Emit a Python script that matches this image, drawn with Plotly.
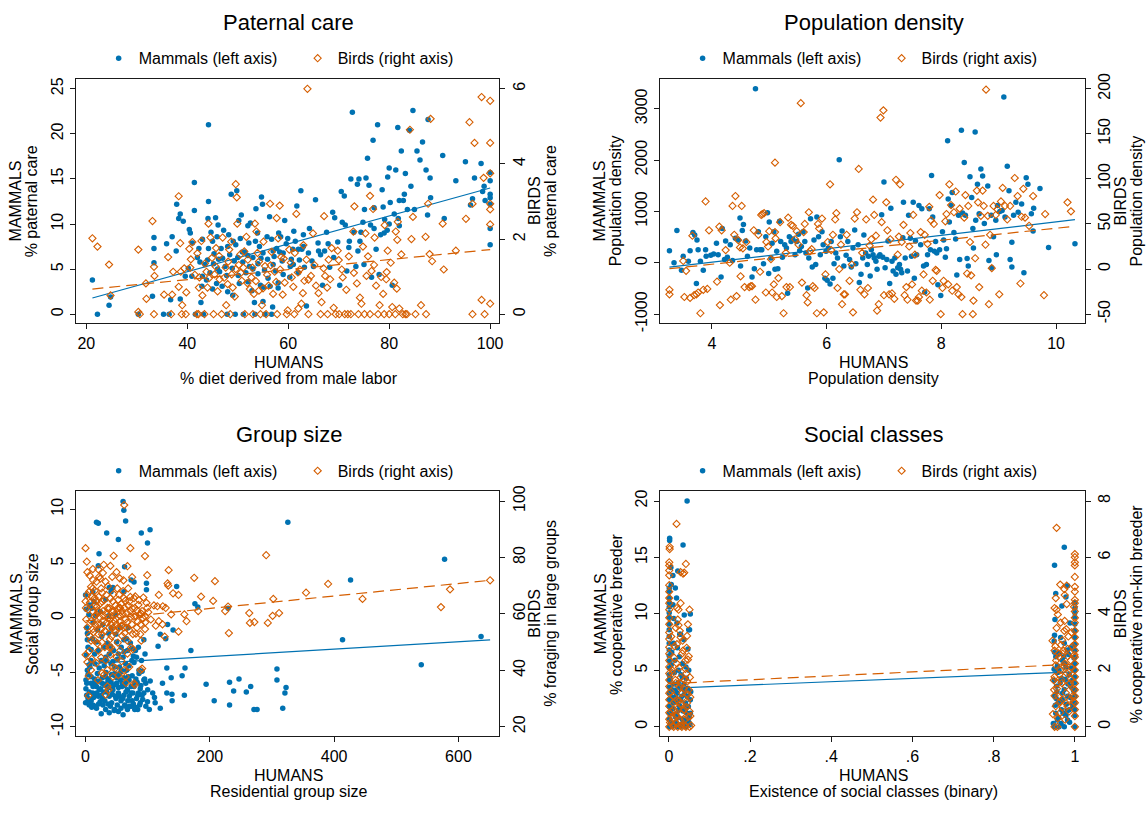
import plotly.graph_objects as go

BLUE = "#0072B2"
ORANGE = "#D55E00"
INK = "#1a1a1a"
FONT = "Liberation Sans, Arial, Helvetica, sans-serif"
W, H = 1148, 813

# ---------------- Paternal care ----------------
pc_mammals = [
    (21.2, 3.8), (22.2, 0), (24.5, 1.0), (24.8, 1.9), (30.3, 0), (33.1, 2.0), (33.4, 7.3), (33.4, 8.5),
    (33.4, 5.7), (35.3, 0), (35.9, 7.8), (36.4, 0), (36.7, 1.6), (37.0, 8.6), (37.8, 7.0), (37.9, 12.2),
    (38.3, 10.6), (38.6, 11.1), (38.6, 1.7), (39.2, 10.3), (39.6, 4.2), (40.4, 9.4), (40.6, 9.0), (40.9, 4.2),
    (41.4, 14.6), (41.4, 11.5), (41.6, 0), (42.0, 6.3), (42.3, 7.3), (42.7, 1.3), (42.9, 3.1), (43.2, 0),
    (43.5, 5.5), (44.2, 21.0), (44.2, 12.5), (44.2, 7.3), (44.7, 9.1), (45.0, 8.1), (45.3, 6.7), (45.6, 10.7),
    (45.8, 3.4), (46.4, 4.7), (46.7, 7.3), (47.5, 5.3), (47.9, 0), (48.2, 8.8), (48.7, 13.3), (49.1, 8.1),
    (49.3, 5.9), (49.5, 0), (49.8, 13.7), (50.1, 4.3), (50.2, 10.4), (50.5, 8.4), (50.7, 11.0), (51.1, 0),
    (51.4, 6.9), (52.0, 9.8), (52.3, 5.3), (52.5, 10.1), (53.0, 6.3), (53.3, 1.3), (53.4, 0), (53.6, 11.7),
    (53.9, 9.0), (54.3, 7.5), (54.5, 3.2), (54.7, 13.0), (54.9, 12.2), (55.1, 3.0), (55.4, 0), (55.9, 6.1),
    (56.3, 10.8), (56.7, 8.3), (56.7, 0), (56.9, 0.8), (57.2, 6.4), (57.7, 7.3), (58.1, 9.0), (58.5, 8.6),
    (58.8, 5.9), (59.3, 10.4), (59.9, 8.4), (60.3, 4.1), (60.6, 6.1), (60.9, 7.2), (61.4, 8.1), (61.7, 12.0),
    (62.0, 7.2), (62.5, 13.7), (62.7, 7.2), (63.2, 5.2), (63.6, 0.9), (64.2, 9.5), (64.7, 5.9), (65.4, 12.7),
    (65.9, 7.9), (66.4, 6.6), (66.8, 3.2), (67.2, 7.0), (67.6, 9.1), (68.2, 5.2), (68.8, 11.3), (69.2, 10.7),
    (69.8, 8.0), (70.2, 3.2), (70.5, 13.6), (70.7, 10.2), (71.1, 13.1), (71.6, 4.8), (72.1, 8.1), (72.4, 15.0),
    (72.7, 22.4), (73.0, 9.1), (73.4, 5.3), (73.7, 14.4), (74.0, 15.0), (74.2, 8.1), (74.4, 9.1), (74.8, 10.2),
    (75.1, 11.6), (75.4, 15.1), (75.7, 17.3), (76.0, 14.3), (76.5, 4.1), (76.8, 19.3), (77.0, 11.8), (77.4, 7.2),
    (77.7, 21.0), (78.0, 4.4), (78.3, 8.8), (78.6, 13.8), (79.1, 10.5), (79.6, 9.3), (79.7, 15.2), (80.0, 16.2),
    (80.2, 12.4), (80.6, 3.2), (81.0, 11.1), (81.3, 16.0), (81.7, 20.7), (82.0, 12.6), (82.4, 18.1), (82.8, 12.6),
    (83.2, 15.6), (83.6, 11.6), (84.0, 20.4), (84.3, 14.2), (84.7, 22.6), (85.5, 18.1), (86.1, 17.1), (86.6, 19.1),
    (87.3, 16.0), (87.6, 11.0), (87.7, 21.6), (88.1, 15.1), (88.2, 12.9), (90.6, 17.6), (90.9, 10.6), (93.2, 14.8),
    (95.1, 16.9), (96.1, 12.1), (96.5, 12.8), (96.9, 15.1), (98.2, 16.7), (98.5, 13.6), (98.8, 14.2), (99.0, 12.6),
    (100, 15.7), (100, 14.8), (100, 13.3), (100, 12.2), (100, 9.5), (100, 7.7), (100, 12.9),
    (44, 6.0), (46, 5.0), (47, 6.2), (48, 7.5), (50, 6.3), (51, 5.8), (52, 6.5), (53, 5.0), (54, 4.5),
    (55, 6.8), (56, 4.0), (57, 5.5), (58, 3.5), (59, 6.8), (61, 5.5), (63, 7.5), (66, 7.0), (69, 6.3),
    (72, 7.4), (75, 5.5), (77, 9.5), (80, 10.0), (82, 9.8), (79, 9.0), (45, 2.8), (43, 4.2), (48, 2.5),
    (52, 3.6), (55, 1.4),
    (40.2, 5.1), (41.0, 7.9), (42.5, 5.8), (43.0, 8.3), (43.8, 3.8), (44.5, 4.6), (45.2, 5.6), (45.9, 8.6),
    (46.2, 6.1), (46.9, 3.1), (47.2, 9.3), (47.8, 4.3), (48.4, 6.6), (48.9, 5.1), (49.6, 7.7), (50.3, 3.4),
    (50.9, 6.9), (51.6, 4.6), (52.2, 7.9), (52.8, 2.6), (53.5, 8.1), (54.0, 5.6), (54.6, 6.2), (55.3, 4.9),
    (55.8, 8.6), (56.4, 3.1), (57.0, 7.0), (57.5, 4.8), (58.3, 6.9), (59.0, 4.4), (59.6, 7.8), (60.4, 5.3),
    (61.1, 9.2), (62.2, 6.0), (63.0, 8.8), (64.0, 6.8), (65.0, 5.3), (67.9, 7.8), (71.3, 9.9), (73.8, 7.0),
    (76.3, 9.9), (78.8, 11.9), (81.8, 10.6), (83.0, 13.3), (85.0, 11.6), (62.0, 4.6), (58.0, 2.9), (49.0, 2.1),
    (46.1, 9.9), (44.1, 10.6),
]
pc_birds = [
    (21.2, 2.02), (22.2, 1.80), (24.5, 1.32), (24.8, 0.50), (30.3, 1.72), (30.3, 0.06), (30.6, 0), (31.8, 0.82),
    (31.9, 0.41), (33.1, 2.48), (33.4, 1.26), (33.5, 1.02), (33.4, 0), (35.4, 0.52), (36.2, 1.52), (36.8, 0),
    (37.0, 0.52), (37.2, 1.13), (38.3, 3.14), (38.3, 0.73), (38.6, 1.89), (38.7, 1.13), (38.9, 0), (39.0, 0.24),
    (39.4, 1.22), (39.7, 0), (39.8, 0.58), (40.4, 1.74), (40.6, 1.24), (41.0, 1.92), (41.9, 0), (42.3, 0.71),
    (42.4, 0.98), (42.8, 1.95), (43.0, 0.50), (43.4, 0), (43.8, 1.13), (44.2, 2.41), (44.3, 0.96), (44.6, 2.04),
    (44.9, 1.50), (45.2, 0), (45.4, 1.06), (45.7, 1.76), (46.0, 0.61), (46.4, 0.93), (47.0, 2.04), (47.6, 1.24),
    (47.7, 0.24), (48.0, 0.80), (48.3, 1.72), (48.5, 0), (48.7, 1.93), (49.0, 0.71), (49.4, 0.47), (49.6, 3.46),
    (49.8, 3.11), (49.9, 2.41), (50.2, 1.31), (50.5, 1.59), (50.8, 0.89), (51.1, 1.24), (51.4, 0), (51.7, 2.06),
    (52.0, 1.45), (52.4, 0.67), (52.7, 0.98), (53.2, 0.54), (53.4, 2.41), (53.7, 2.20), (53.9, 1.63), (54.2, 0.63),
    (54.5, 0), (54.8, 0.24), (55.1, 1.93), (55.4, 1.28), (55.6, 0), (56.1, 0.76), (56.4, 2.94), (56.7, 1.66),
    (57.0, 0.54), (57.3, 1.13), (57.7, 2.56), (58.0, 2.02), (58.3, 2.89), (58.6, 1.52), (58.9, 0.52), (59.3, 0.84),
    (59.7, 0), (59.9, 0.10), (60.2, 1.72), (60.7, 0.98), (61.3, 1.63), (61.6, 2.67), (61.9, 1.11), (62.0, 0.15),
    (62.6, 0.28), (62.9, 0.56), (63.2, 0.89), (63.6, 1.45), (63.8, 6.0), (64.5, 1.02), (64.9, 2.15), (65.5, 0.76),
    (66.0, 0.56), (66.4, 0), (66.6, 0.32), (67.1, 2.61), (67.3, 1.02), (67.7, 0.71), (68.3, 0.93), (68.6, 1.76),
    (69.0, 0.17), (69.4, 0), (69.8, 1.69), (70.1, 0), (70.6, 1.19), (70.8, 0.98), (71.2, 0), (72.0, 1.54),
    (72.4, 0), (72.9, 2.20), (73.1, 2.87), (73.6, 0.82), (73.9, 0), (74.2, 0.44), (74.5, 0.28), (74.8, 1.80),
    (75.1, 0), (75.3, 2.15), (75.8, 1.54), (76.2, 3.15), (76.5, 1.15), (76.8, 2.80), (77.1, 2.04), (77.4, 0.76),
    (77.8, 0), (78.1, 0.24), (78.4, 0.99), (78.8, 0.54), (79.1, 2.37), (79.4, 0.93), (79.7, 1.69), (80.0, 0),
    (80.3, 1.37), (80.6, 0.19), (81.0, 0.84), (81.3, 2.20), (81.6, 1.98), (81.7, 2.46), (82.0, 0.15), (82.4, 1.59),
    (82.7, 0), (83.2, 0), (83.5, 0), (84.1, 4.91), (84.4, 2.00), (84.7, 2.59), (85.2, 0), (86.3, 0.24),
    (87.3, 0), (87.2, 2.06), (87.7, 2.94), (88.0, 1.60), (88.2, 5.20), (88.5, 1.41), (90.6, 2.41), (90.8, 1.19),
    (93.2, 1.69), (95.2, 2.54), (95.9, 5.11), (96.5, 0), (96.5, 2.94), (96.9, 4.56), (98.3, 5.78), (98.3, 0.38),
    (98.7, 3.63), (98.9, 0), (100, 5.68), (100, 4.56), (100, 3.75), (100, 2.94), (100, 2.79), (100, 2.39),
    (100, 0.28),
    (40.7, 1.46), (41.5, 1.05), (42.0, 1.62), (43.5, 1.35), (44.0, 0.71), (45.6, 1.27), (46.3, 1.55), (47.3, 0.97),
    (48.1, 1.40), (48.8, 1.06), (49.6, 1.20), (50.6, 1.10), (51.3, 1.67), (51.9, 0.83), (52.9, 1.24), (53.6, 0.88),
    (54.2, 1.40), (55.0, 0.69), (55.8, 1.05), (56.5, 1.30), (57.6, 0.86), (58.4, 1.19), (59.1, 1.48), (60.5, 1.37),
    (61.0, 0.73), (62.3, 1.19), (63.0, 1.84), (64.0, 0.92), (65.2, 1.31), (67.0, 1.22), (68.0, 1.45), (70.0, 1.44),
    (71.5, 0.65), (73.0, 1.10), (75.5, 1.02), (77.0, 1.31), (79.5, 1.12), (81.5, 0.68), (42.2, 0), (46.8, 0),
    (53.0, 0), (57.8, 0), (61.2, 0), (64.0, 0), (67.8, 0), (71.8, 0), (76.2, 0), (79.0, 0), (81.2, 0),
]
pc_mammal_fit = [(21.2, 1.8), (100, 14.0)]
pc_bird_fit = [(21.2, 0.67), (100, 1.72)]

# ---------------- Population density ----------------
pd_mammals = [
    (3.26, 236), (3.34, 0), (3.39, 631), (3.47, -146), (3.50, 127), (3.59, 32), (3.62, 236), (3.67, 592),
    (3.70, 541), (3.73, -401), (3.74, 446), (3.76, 255), (3.80, 32), (3.85, -146), (3.89, 255), (3.90, 127),
    (3.98, 146), (4.03, 172), (4.08, 382), (4.11, 159), (4.16, -274), (4.18, 669), (4.22, 64), (4.24, 427),
    (4.27, 108), (4.32, 350), (4.36, 45), (4.41, 478), (4.46, 446), (4.49, 873), (4.50, -64), (4.53, 631),
    (4.55, 745), (4.59, 427), (4.62, 127), (4.66, 287), (4.70, -274), (4.74, -115), (4.76, 3389), (4.78, 255),
    (4.81, 605), (4.84, 255), (4.87, 255), (4.90, -19), (4.94, 510), (4.97, 975), (4.99, -210), (5.00, 796),
    (5.03, 96), (5.05, 382), (5.08, 605), (5.10, -127), (5.13, 223), (5.15, -115), (5.18, 809), (5.20, 414),
    (5.23, 108), (5.27, 350), (5.30, 287), (5.32, -592), (5.35, 510), (5.38, 414), (5.41, 465), (5.45, 159),
    (5.48, 414), (5.51, 554), (5.53, 236), (5.56, 318), (5.59, 605), (5.62, 414), (5.64, 191), (5.67, -490),
    (5.69, 96), (5.72, 860), (5.75, -83), (5.78, 446), (5.81, -32), (5.83, 892), (5.86, 510), (5.89, 159),
    (5.92, 605), (5.94, 350), (5.97, -299), (5.99, 223), (6.01, -338), (6.03, 287), (6.06, -414), (6.08, 414),
    (6.11, -299), (6.13, -19), (6.16, 191), (6.19, 96), (6.22, 2006), (6.24, 510), (6.27, 618), (6.30, -64),
    (6.34, 146), (6.37, 414), (6.40, 64), (6.43, -83), (6.46, 287), (6.49, 637), (6.51, -19), (6.55, 350),
    (6.57, -382), (6.60, -223), (6.63, 96), (6.65, 541), (6.68, 191), (6.71, -32), (6.73, 127), (6.76, -255),
    (6.78, 255), (6.81, 159), (6.83, 96), (6.86, 32), (6.88, -127), (6.91, 127), (6.93, 159), (6.96, 936),
    (6.98, 108), (7.00, 1573), (7.02, -96), (7.05, 64), (7.07, 427), (7.10, -401), (7.12, 1064), (7.14, 32),
    (7.16, -159), (7.19, 96), (7.21, -223), (7.24, -96), (7.27, -32), (7.29, -127), (7.31, -191), (7.33, 490),
    (7.34, 1178), (7.37, 96), (7.41, -159), (7.43, 924), (7.46, 478), (7.48, 127), (7.51, 1178), (7.53, -299),
    (7.55, 427), (7.57, 159), (7.61, 1115), (7.64, 350), (7.66, 1051), (7.69, -64), (7.71, -573), (7.74, -32),
    (7.76, 159), (7.79, 1051), (7.81, 255), (7.83, 1701), (7.85, 892), (7.88, 223), (7.90, 414), (7.92, 191),
    (7.94, -427), (7.97, 255), (7.99, -637), (8.02, 605), (8.04, 446), (8.07, 108), (8.09, 274), (8.11, 2376),
    (8.12, 1242), (8.14, 796), (8.17, 1115), (8.19, 1369), (8.22, 592), (8.25, 465), (8.27, -236), (8.30, 924),
    (8.32, 64), (8.35, 2580), (8.37, 968), (8.40, 1955), (8.42, 924), (8.45, 83), (8.47, -64), (8.50, 1675),
    (8.53, 1274), (8.55, 669), (8.56, 287), (8.59, 2548), (8.60, 828), (8.63, 1529), (8.66, 955), (8.69, 1828),
    (8.72, 1688), (8.75, 764), (8.81, 1497), (8.83, 45), (8.87, 924), (8.88, -96), (8.91, 510), (8.95, 828),
    (8.96, 159), (8.98, 1115), (9.02, 1000), (9.06, 1019), (9.09, 3229), (9.11, 892), (9.15, 1879), (9.18, 1401),
    (9.20, 64), (9.23, -83), (9.23, 401), (9.26, 924), (9.30, 1178), (9.34, 987), (9.40, 1146), (9.44, -191),
    (9.48, 1656), (9.51, 1529), (9.57, 955), (9.60, 618), (9.61, 1064), (9.72, 1446), (9.87, 299), (10.33, 369),
]
pd_birds = [
    (3.26, -23), (3.26, -28), (3.50, 9), (3.52, -31), (3.55, -2), (3.62, -32), (3.66, 37), (3.69, -29),
    (3.73, -28), (3.76, -26), (3.80, -49), (3.85, -23), (3.89, 75), (3.92, -22), (3.95, 43), (4.09, -14),
    (4.13, 47), (4.14, -40), (4.17, 43), (4.24, 21), (4.31, 7), (4.33, -34), (4.36, 70), (4.39, 38),
    (4.41, 81), (4.43, -30), (4.46, 32), (4.49, 24), (4.50, -8), (4.52, 70), (4.54, 23), (4.57, -20),
    (4.60, 30), (4.65, -20), (4.68, -19), (4.70, -19), (4.73, 43), (4.76, -34), (4.81, 38), (4.84, -3),
    (4.86, 60), (4.88, 61), (4.91, 62), (4.94, -26), (4.95, 30), (4.98, 25), (5.00, 42), (5.03, 11),
    (5.05, -26), (5.08, -17), (5.10, 118), (5.10, 41), (5.11, 34), (5.13, -31), (5.16, -10), (5.19, 52),
    (5.22, -30), (5.25, -49), (5.29, 18), (5.30, -20), (5.33, 57), (5.36, -20), (5.38, 49), (5.41, 48),
    (5.45, 33), (5.48, 42), (5.51, 27), (5.55, 184), (5.57, -15), (5.60, 41), (5.62, 50), (5.65, -29),
    (5.67, -37), (5.69, 63), (5.71, 20), (5.74, 22), (5.76, -19), (5.79, -21), (5.83, -49), (5.85, 50),
    (5.87, 45), (5.92, 56), (5.95, -48), (5.98, -6), (6.02, 30), (6.06, 94), (6.08, 21), (6.11, 38),
    (6.15, 55), (6.17, 62), (6.19, -21), (6.22, 0), (6.25, 27), (6.27, -39), (6.30, -28), (6.32, -28),
    (6.35, 38), (6.40, -13), (6.44, 5), (6.46, -48), (6.49, 56), (6.53, 63), (6.56, 111), (6.59, -23),
    (6.62, 18), (6.66, -28), (6.69, 55), (6.72, -21), (6.75, 26), (6.78, 33), (6.81, 77), (6.83, 60),
    (6.86, 37), (6.88, -46), (6.91, -39), (6.94, 168), (6.96, 52), (6.99, 176), (7.00, -29), (7.04, 74),
    (7.06, 43), (7.09, -28), (7.11, 33), (7.14, -27), (7.18, -33), (7.21, 99), (7.24, 16), (7.26, 36),
    (7.28, 94), (7.31, 30), (7.34, 49), (7.36, -29), (7.39, -20), (7.41, -34), (7.44, 25), (7.46, 40),
    (7.49, -17), (7.51, 60), (7.54, 16), (7.56, -35), (7.59, -35), (7.61, -31), (7.64, 41), (7.66, -24),
    (7.69, -6), (7.71, 38), (7.74, -26), (7.76, 28), (7.79, 69), (7.80, -34), (7.82, 54), (7.85, -13),
    (7.87, 50), (7.90, -1), (7.92, -2), (7.97, 82), (7.99, -50), (8.02, -21), (8.04, -13), (8.07, 53),
    (8.09, 61), (8.12, -17), (8.14, 94), (8.17, 71), (8.19, -24), (8.22, 63), (8.25, 86), (8.27, -20),
    (8.30, -28), (8.32, 67), (8.35, -31), (8.37, -50), (8.40, 57), (8.42, 82), (8.45, -5), (8.47, 70),
    (8.50, 30), (8.52, -7), (8.55, -50), (8.56, -35), (8.59, 12), (8.62, 87), (8.64, 74), (8.66, -20),
    (8.69, 59), (8.72, 87), (8.74, 70), (8.77, 27), (8.78, 199), (8.81, 59), (8.83, -39), (8.85, 38),
    (8.88, 1), (8.91, 70), (8.95, 60), (8.98, 66), (9.01, -28), (9.04, 75), (9.07, 90), (9.11, 70),
    (9.15, 55), (9.20, 70), (9.28, 101), (9.33, 81), (9.38, -16), (9.40, 58), (9.43, 89), (9.46, 57),
    (9.53, 48), (9.60, 81), (9.79, -29), (9.81, 61), (10.20, 74), (10.26, 64),
]
pd_mammal_fit = [(3.26, -85), (10.33, 841)]
pd_bird_fit = [(3.26, 0.4), (10.33, 47.5)]

# ---------------- Group size ----------------
gs_mammals = [
    (60.4, 10.7), (61.6, 9.9), (64.5, 8.9), (17.6, 8.8), (20.5, 8.7), (34.0, 7.8), (52.8, 7.2), (89.7, 7.8),
    (99.7, 6.9), (103.8, 8.1), (21.7, 5.9), (20.5, 4.8), (62.8, 4.7), (0, 2.1), (325.5, 8.8), (577.7, 5.4),
    (426.4, 3.5), (146.6, 2.9), (44, 2.8), (41, 2.4), (11.7, 2.4), (78, 3.3), (98, 3.2), (176, 1.3),
    (180.6, 1.0), (229.3, 0.9), (413.5, -2.0), (636.4, -1.7), (540.2, -4.3), (120.2, -1.5), (129, -1.9),
    (132, -0.6), (140.8, -1.1), (116.7, -2.6), (169.5, -3.0), (160, -4.6), (155.4, -5.3), (130.8, -4.6),
    (137.8, -5.5), (123.8, -6.0), (130.8, -6.9), (139, -7.0), (139.3, -7.6), (159, -7.1), (194, -6.1),
    (207, -7.6), (231.7, -5.9), (246.9, -5.6), (238.3, -6.7), (258.7, -6.8), (265.7, -6.3), (271, -8.4),
    (276, -8.4), (231.7, -8.0), (308, -4.7), (308, -5.7), (322.6, -6.4), (320.8, -6.9), (317.3, -8.3),
    (110.9, -7.3), (120.2, -8.3), (102.6, -8.4), (99.7, -7.7), (96.8, -6.0), (93.8, -5.7), (90.9, -7.1),
    (88, -7.8), (83.9, -8.4), (79.2, -8.4), (73.3, -8.1), (67.4, -8.4), (64.5, -8.1), (60.4, -8.9),
    (52.8, -8.6), (46.9, -8.4), (38.1, -8.7), (32.3, -8.4), (25.2, -8.8), (17.6, -8.3), (11.7, -8.0),
    (5.9, -8.0), (0, -7.8), (1.8, -7.1), (0.6, -6.5), (0.6, -5.7), (2.9, -4.8), (5.9, -4.3), (8.8, -6.0),
    (11.7, -6.9), (14.7, -5.6), (17.6, -6.3), (20.5, -7.2), (23.5, -7.7), (26.4, -6.0), (29.3, -6.8),
    (32.3, -5.4), (35.2, -6.3), (38.1, -7.2), (41.1, -5.9), (44, -6.6), (46.9, -5.1), (49.9, -6.0),
    (52.8, -6.9), (55.7, -5.7), (58.7, -6.3), (61.6, -7.1), (64.5, -5.9), (67.4, -6.6), (70.4, -7.2),
    (73.3, -6.3), (76.2, -6.9), (79.2, -6.0), (82.1, -7.4), (85, -6.9), (88, -6.5), (93.8, -6.9),
    (8.8, -3.9), (14.7, -3.3), (20.5, -3.0), (25.2, -3.9), (29.3, -2.7), (32.3, -3.6), (35.2, -2.3),
    (38.1, -3.3), (41.1, -4.2), (45.2, -3.0), (48.7, -1.5), (51, -3.8), (54.5, -4.5), (57.4, -2.7),
    (60.4, -3.6), (64.5, -4.2), (67.4, -3.0), (72.1, -2.3), (74.5, -3.9), (76.8, -3.5), (80.4, -3.0),
    (85, -2.7), (93.8, -2.0), (95.7, -3.3), (2.9, -2.0), (1.8, -0.9), (5.3, 0.3), (10, 0.9), (13.5, 1.5),
    (19.4, -1.1), (23.5, 0.6), (27.6, -0.6), (32.3, 1.7), (37, 0.2), (41.1, -0.9), (48.7, 0.3),
    (55.7, -0.9), (61.6, -2.0), (68.6, -0.9), (98, 2.6), (38.1, 2.8), (61.6, 2.4), (73.3, 3.5),
    (46.9, -5.3), (4, -7.4), (9, -7.6), (14, -7.0), (22, -6.6), (27, -7.4), (31, -6.2), (36, -5.8),
    (42, -7.8), (48, -7.2), (53, -5.2), (57, -7.6), (63, -6.2), (69, -5.4), (75, -7.6), (81, -5.6),
    (2, -6.0), (3, -7.8), (4, -5.2), (6, -6.8), (7, -7.5), (9, -5.4), (10, -8.2), (12, -6.3), (13, -7.3),
    (15, -5.9), (16, -8.1), (18, -6.9), (19, -5.1), (21, -7.9), (22, -5.8), (24, -6.5), (25, -7.1),
    (27, -5.5), (28, -8.0), (30, -6.1), (31, -7.6), (33, -5.0), (34, -6.8), (36, -7.9), (37, -5.6),
    (39, -6.4), (40, -8.1), (42, -5.2), (43, -7.0), (45, -6.2), (46, -8.5), (47, -4.5), (49, -7.4),
    (50, -5.5), (51, -8.0), (53, -6.4), (54, -7.2), (56, -5.0), (57, -8.3), (59, -6.0), (60, -7.4),
    (62, -5.5), (63, -8.0), (65, -6.8), (66, -4.8), (68, -7.6), (70, -5.7), (71, -8.1), (73, -6.9),
    (75, -5.3), (77, -7.9), (78, -6.3), (80, -8.2), (83, -5.9), (84, -7.1), (86, -5.1), (87, -8.0),
    (89, -6.2), (91, -4.9), (92, -7.5), (95, -5.6), (97, -8.1), (100, -6.6), (104, -5.8), (108, -6.9),
    (112, -7.8), (1, -3.4), (4, -2.7), (7, -4.5), (11, -1.9), (15, -4.2), (18, -2.2), (22, -4.6),
    (26, -1.7), (30, -4.4), (34, -3.9), (37, -1.4), (40, -2.6), (44, -4.0), (50, -2.2), (53, -3.3),
    (58, -4.8), (62, -3.1), (66, -1.9), (70, -4.4), (74, -2.8), (78, -4.1), (82, -3.6), (86, -4.8),
    (90, -3.9), (1, 0.8), (3, -1.4), (7, 1.2), (12, -0.4), (16, 0.2), (9, -2.9),
]
gs_birds = [
    (0, 83.3), (62.2, 98.6), (72.1, 83.3), (45.2, 80.6), (95.6, 80.5), (67.4, 76.9), (29.3, 77.4),
    (20.5, 75.8), (6.5, 73.6), (99.2, 73.7), (133.7, 75.5), (174.8, 72.8), (208.2, 71.6), (290.6, 80.8),
    (390.3, 70.6), (651, 71.9), (586.5, 68.7), (571.9, 62.4), (445.7, 65.3), (354.8, 67.5), (302.1, 65.3),
    (311.4, 60.3), (301.0, 59.3), (293.3, 56.8), (271.6, 57.1), (264.5, 56.8), (263.4, 60.3), (229.3, 62.6),
    (224.6, 61.0), (230.6, 53.2), (185.9, 66.1), (181.2, 61.0), (205.3, 64.6), (159, 59.8), (162.5, 57.4),
    (149.6, 66.7), (140.8, 67.3), (149.6, 53.7), (137.8, 59.8), (129, 62.1), (124.3, 62.7), (132, 70.8),
    (133.1, 70.0), (117.9, 66.7), (117.9, 57.4), (123.8, 56.3), (127.3, 51.9), (115.5, 62.7), (99.2, 62.1),
    (95.7, 59.2), (95.7, 54.6), (89.7, 50.5), (88.6, 40.1), (91, 40.6), (79.2, 34.8), (78, 35.4),
    (37, 33.1), (35.2, 34.3), (32.3, 31.4), (4.7, 31.0), (0, 45.5), (2.9, 42.9), (5.9, 46.8), (8.8, 50.5),
    (11.7, 54.6), (0, 64.4), (0.6, 62.1), (2.9, 66.7), (5.9, 67.9), (8.8, 69.6), (11.7, 69.0), (14.7, 65.6),
    (15.8, 63.2), (17.6, 59.8), (19.4, 56.3), (20.5, 52.8), (21.7, 73.1), (23.5, 72.5), (25.2, 69.0),
    (26.4, 64.4), (28.2, 61.0), (29.3, 57.4), (31.1, 53.9), (32.3, 71.4), (33.4, 66.7), (35.2, 62.1),
    (37, 58.6), (38.1, 55.1), (39.3, 51.0), (41.1, 48.1), (42.8, 73.1), (44, 64.4), (45.2, 61.0),
    (46.9, 57.4), (48.7, 53.9), (49.9, 74.8), (51, 69.0), (52.8, 65.0), (54.5, 62.1), (55.7, 59.2),
    (57.5, 55.7), (58.7, 52.2), (60.4, 68.1), (61.6, 65.6), (62.8, 62.1), (64.5, 58.1), (66.3, 55.1),
    (67.4, 50.5), (68.6, 69.0), (70.4, 64.4), (72.1, 61.0), (74.5, 56.3), (76.2, 52.8), (78, 65.6),
    (79.2, 62.1), (80.9, 59.2), (82.7, 55.1), (85, 63.2), (86.8, 59.8), (88.6, 56.3), (91, 61.0),
    (92.7, 58.4), (14.7, 59.2), (17.6, 64.4), (20.5, 61.0), (23.5, 56.3), (26.4, 52.8), (38.1, 62.1),
    (41.1, 56.3), (44, 55.1), (46.9, 59.8), (49.9, 56.3), (52.8, 55.1), (55.7, 62.1), (58.7, 61.0),
    (61.6, 55.1), (14.7, 50.5), (20.5, 47.0), (26.4, 49.9), (32.3, 43.5), (38.1, 48.1), (44, 41.2),
    (49.9, 44.7), (55.7, 47.0), (61.6, 40.1), (67.4, 45.9), (73.3, 48.1), (8.8, 40.1), (17.6, 42.5),
    (26.4, 39.0), (35.2, 40.1), (44, 37.7), (52.8, 38.3), (64.5, 37.7), (70.4, 41.2), (2.9, 74.8),
    (11.7, 75.9), (17.6, 71.4),
    (1, 58.0), (3, 55.2), (4, 61.5), (6, 52.3), (7, 64.0), (9, 57.5), (10, 66.2), (12, 60.8), (13, 53.5),
    (15, 68.2), (16, 56.0), (18, 62.5), (19, 49.5), (21, 66.0), (22, 58.9), (24, 63.7), (25, 54.5),
    (27, 67.5), (28, 59.5), (30, 64.9), (31, 48.2), (33, 60.2), (34, 56.9), (36, 69.8), (37, 61.7),
    (39, 57.9), (40, 65.5), (42, 52.0), (43, 60.7), (45, 67.0), (46, 54.1), (48, 63.0), (49, 58.3),
    (51, 61.8), (52, 49.8), (54, 66.8), (55, 57.2), (57, 63.5), (58, 55.8), (60, 59.9), (61, 71.9),
    (63, 53.2), (64, 64.7), (66, 60.4), (67, 57.0), (69, 62.9), (70, 54.3), (72, 66.0), (73, 58.9),
    (75, 62.0), (76, 47.5), (78, 59.0), (80, 66.2), (81, 53.0), (83, 61.2), (84, 57.2), (86, 64.9),
    (88, 52.8), (90, 60.0), (93, 65.8), (96, 57.0), (98, 63.9), (101, 60.6), (105, 58.0), (110, 63.0),
    (113, 55.8), (5, 38.0), (10, 44.0), (20, 36.5), (25, 44.5), (30, 38.5), (40, 45.5), (48, 40.8),
    (58, 43.2), (65, 35.5), (2, 78.5), (12, 72.0), (28, 74.5), (40, 77.0), (55, 72.6), (75, 73.0),
]
gs_mammal_fit = [(0, -4.22), (651, -2.02)]
gs_bird_fit = [(0, 57.5), (651, 71.9)]

# ---------------- Social classes ----------------
sc_mammals = [
    (0.045, 20.0), (0.002, 16.7), (0.002, 16.5), (0.035, 16.1), (0.022, 13.8), (0.010, 13.4), (0.006, 12.6),
    (0.001, 12.3), (0.001, 12.0), (0.016, 12.3), (0.001, 11.4), (0.001, 11.0), (0.001, 10.6), (0.001, 10.1),
    (0.019, 11.4), (0.053, 10.0), (0.001, 9.7), (0.001, 9.1), (0.001, 8.6), (0.001, 8.0), (0.020, 9.2),
    (0.049, 8.6), (0.001, 7.4), (0.001, 6.8), (0.001, 6.3), (0.029, 8.2), (0.026, 6.2), (0.049, 5.0),
    (0.001, 5.8), (0.001, 5.2), (0.012, 7.4), (0.037, 7.7), (0.001, 4.6), (0.001, 4.1), (0.001, 3.5),
    (0.001, 3.0), (0.001, 2.4), (0.001, 1.8), (0.001, 1.2), (0.001, 0.7), (0.001, 0), (0.012, 3.8),
    (0.020, 3.0), (0.029, 2.4), (0.037, 3.3), (0.045, 2.7), (0.053, 1.2), (0.016, 0.9), (0.024, 1.5),
    (0.033, 0.7), (0.041, 0), (0.049, 0.4), (0.008, 0), (0.020, 0), (0.029, 0), (0.037, 3.8), (0.011, 2.1),
    (0.027, 3.5), (0.041, 2.1), (0.053, 2.4), (0.033, 4.4), (0.024, 5.0), (0.045, 1.2), (0.006, 5.5),
    (0.006, 3.3), (0.006, 1.2), (0.017, 2.7), (0.017, 0.4),
    (0.004, 0.3), (0.009, 1.6), (0.013, 0.2), (0.018, 2.3), (0.022, 0.8), (0.026, 1.9), (0.031, 0.2),
    (0.035, 1.4), (0.039, 2.9), (0.044, 0.6), (0.048, 1.8), (0.052, 0.2), (0.003, 4.3), (0.008, 2.6),
    (0.014, 4.8), (0.019, 1.1), (0.023, 3.9), (0.028, 1.6), (0.032, 2.7), (0.036, 0.4), (0.040, 1.7),
    (0.046, 3.4), (0.050, 0.9), (0.054, 3.1), (0.007, 6.6), (0.012, 9.6), (0.015, 5.9), (0.021, 7.0),
    (0.025, 0.1), (0.030, 4.6), (0.034, 5.6), (0.038, 9.9), (0.043, 4.3), (0.047, 6.9), (0.051, 8.6),
    (0.010, 10.8), (0.005, 14.1), (0.027, 8.2), (0.042, 5.3), (0.016, 3.2),
    (0.974, 15.9), (0.950, 14.3), (0.982, 12.5), (0.953, 11.8), (0.978, 11.5), (1.0, 11.0), (1.0, 10.5),
    (1.0, 10.1), (1.0, 9.7), (1.0, 9.1), (1.0, 8.5), (1.0, 7.9), (1.0, 7.3), (1.0, 6.8), (1.0, 6.2),
    (1.0, 5.6), (1.0, 5.0), (1.0, 4.4), (1.0, 3.9), (1.0, 3.3), (1.0, 2.7), (1.0, 2.1), (1.0, 1.5),
    (1.0, 1.0), (1.0, 0), (0.950, 8.1), (0.949, 7.6), (0.950, 6.6), (0.965, 7.9), (0.974, 7.4),
    (0.982, 6.8), (0.990, 7.0), (0.953, 6.2), (0.957, 5.4), (0.961, 5.0), (0.969, 5.9), (0.978, 5.3),
    (0.986, 4.6), (0.949, 4.1), (0.955, 3.6), (0.964, 3.9), (0.974, 3.3), (0.982, 2.7), (0.990, 3.6),
    (0.950, 2.7), (0.959, 2.1), (0.967, 1.5), (0.978, 1.0), (0.986, 1.5), (0.953, 1.2), (0.950, 0),
    (0.961, 0), (0.974, 0), (0.982, 0.6), (0.957, 0.6), (0.969, 2.4), (0.994, 2.1),
    (0.947, 0.3), (0.952, 1.9), (0.956, 3.1), (0.960, 0.8), (0.963, 2.3), (0.967, 4.3), (0.971, 1.2),
    (0.975, 5.6), (0.979, 2.0), (0.983, 3.8), (0.987, 0.4), (0.991, 5.2), (0.995, 1.7), (0.998, 6.1),
    (0.949, 5.1), (0.954, 2.5), (0.958, 4.8), (0.962, 6.5), (0.966, 0.3), (0.970, 3.0), (0.973, 6.2),
    (0.977, 4.2), (0.981, 1.4), (0.985, 6.4), (0.989, 2.6), (0.993, 4.1), (0.997, 3.2), (0.951, 9.5),
    (0.968, 10.7), (0.988, 9.2),
]
sc_birds = [
    (0.019, 7.19), (0.002, 6.38), (0.002, 6.30), (0.042, 5.77), (0.029, 5.48), (0.035, 5.43), (0.038, 5.46),
    (0.001, 5.83), (0.001, 5.72), (0.001, 5.54), (0.001, 5.37), (0.001, 5.02), (0.001, 4.79), (0.001, 4.56),
    (0.001, 4.38), (0.001, 4.15), (0.029, 4.38), (0.020, 4.21), (0.024, 4.15), (0.051, 4.15), (0.022, 3.80),
    (0.001, 3.86), (0.001, 3.63), (0.001, 3.34), (0.001, 3.11), (0.017, 3.51), (0.027, 3.40), (0.047, 3.63),
    (0.045, 3.22), (0.020, 2.93), (0.029, 3.17), (0.035, 2.70), (0.041, 2.35), (0.047, 2.38), (0.001, 2.82),
    (0.001, 2.59), (0.001, 2.35), (0.001, 2.12), (0.001, 1.89), (0.001, 1.66), (0.001, 1.43), (0.001, 1.19),
    (0.001, 0.96), (0.001, 0.73), (0.001, 0.50), (0.001, 0.27), (0.001, 0), (0.012, 0), (0.022, 0),
    (0.032, 0), (0.042, 0), (0.051, 0), (0.016, 1.66), (0.029, 1.54), (0.038, 1.66), (0.049, 1.31),
    (0.012, 1.08), (0.024, 0.90), (0.037, 0.61), (0.045, 0.85), (0.053, 0.38), (0.019, 0.38), (0.029, 0.21),
    (0.008, 2.01), (0.020, 2.24), (0.033, 1.19), (0.043, 1.89), (0.012, 0.61),
    (0.003, 0.15), (0.007, 0.55), (0.011, 0.32), (0.015, 0.9), (0.019, 0.12), (0.023, 0.66), (0.027, 1.4),
    (0.031, 0.45), (0.035, 1.04), (0.039, 0.25), (0.043, 0.7), (0.047, 1.15), (0.051, 0.55), (0.055, 0.05),
    (0.005, 1.25), (0.009, 1.9), (0.013, 2.45), (0.017, 1.55), (0.021, 0.95), (0.025, 2.1), (0.029, 1.75),
    (0.033, 2.6), (0.037, 1.35), (0.041, 2.05), (0.045, 1.6), (0.049, 2.5), (0.053, 1.05), (0.006, 3.2),
    (0.014, 2.85), (0.024, 3.6), (0.034, 3.05), (0.044, 2.8), (0.010, 0.05), (0.030, 0.05), (0.040, 0.05),
    (0.018, 0.4), (0.028, 0.8), (0.038, 0.6), (0.048, 0.35), (0.052, 1.75),
    (0.955, 7.05), (1.0, 6.12), (1.0, 6.01), (1.0, 5.83), (1.0, 5.72), (1.0, 5.31), (1.0, 4.96), (1.0, 4.79),
    (1.0, 4.50), (1.0, 4.38), (1.0, 4.09), (1.0, 3.86), (1.0, 3.69), (1.0, 3.40), (1.0, 3.17), (1.0, 2.93),
    (1.0, 2.70), (1.0, 2.47), (1.0, 2.24), (1.0, 2.01), (1.0, 1.77), (1.0, 1.54), (1.0, 1.31), (1.0, 1.08),
    (1.0, 0.85), (1.0, 0.61), (1.0, 0.38), (1.0, 0), (0.964, 5.04), (0.974, 4.88), (0.980, 5.00),
    (0.975, 4.67), (0.953, 4.56), (0.950, 4.21), (0.955, 4.15), (0.980, 4.35), (0.958, 3.98), (0.965, 3.69),
    (0.974, 3.40), (0.979, 3.46), (0.969, 3.07), (0.945, 3.05), (0.950, 2.70), (0.961, 2.47), (0.970, 2.59),
    (0.982, 2.76), (0.990, 2.35), (0.953, 2.18), (0.964, 2.01), (0.975, 2.24), (0.986, 1.95), (0.950, 1.77),
    (0.957, 1.54), (0.967, 1.66), (0.978, 1.43), (0.949, 1.31), (0.959, 1.08), (0.970, 0.96), (0.982, 0.73),
    (0.953, 0.73), (0.964, 0.50), (0.950, 0), (0.957, 0), (0.988, 1.54), (0.994, 1.08),
    (0.946, 0.45), (0.950, 1.1), (0.954, 2.35), (0.958, 0.3), (0.962, 1.85), (0.966, 2.9), (0.970, 0.7),
    (0.974, 2.15), (0.978, 1.2), (0.982, 2.5), (0.986, 0.55), (0.990, 1.7), (0.994, 2.85), (0.997, 0.9),
    (0.948, 1.65), (0.952, 2.85), (0.956, 1.35), (0.960, 2.6), (0.964, 0.9), (0.968, 1.55), (0.972, 2.7),
    (0.976, 0.25), (0.980, 1.9), (0.984, 3.2), (0.988, 0.95), (0.992, 2.1), (0.996, 1.35), (0.999, 2.55),
    (0.955, 3.5), (0.975, 3.75), (0.992, 3.35), (0.998, 4.25),
]
sc_mammal_fit = [(0, 3.41), (1, 4.87)]
sc_bird_fit = [(0, 1.53), (1, 2.22)]

# Panel specifications: data, ranges, ticks, labels and pixel boxes
panels = [
    dict(title="Paternal care", mam=pc_mammals, bird=pc_birds, mfit=pc_mammal_fit, bfit=pc_bird_fit,
         box=(76, 501, 74, 323.3), xr=[17.9, 101.8], ylr=[-1.01, 26.12], yrr=[-0.243, 6.27],
         xt=[20, 40, 60, 80, 100], xtt=["20", "40", "60", "80", "100"],
         ylt=[0, 5, 10, 15, 20, 25], yltt=["0", "5", "10", "15", "20", "25"],
         yrt=[0, 2, 4, 6], yrtt=["0", "2", "4", "6"],
         xlab="% diet derived from male labor", ylab="% paternal care", yrlab="% paternal care"),
    dict(title="Population density", mam=pd_mammals, bird=pd_birds, mfit=pd_mammal_fit, bfit=pd_bird_fit,
         box=(662, 1088.5, 74, 323.3), xr=[3.09, 10.50], ylr=[-1178, 3586], yrr=[-60.2, 211.2],
         xt=[4, 6, 8, 10], xtt=["4", "6", "8", "10"],
         ylt=[-1000, 0, 1000, 2000, 3000], yltt=["-1000", "0", "1000", "2000", "3000"],
         yrt=[-50, 0, 50, 100, 150, 200], yrtt=["-50", "0", "50", "100", "150", "200"],
         xlab="Population density", ylab="Population density", yrlab="Population density"),
    dict(title="Group size", mam=gs_mammals, bird=gs_birds, mfit=gs_mammal_fit, bfit=gs_bird_fit,
         box=(76, 501, 494.3, 744), xr=[-15.8, 665.7], ylr=[-10.87, 11.65], yrr=[16.6, 103.5],
         xt=[0, 200, 400, 600], xtt=["0", "200", "400", "600"],
         ylt=[-10, -5, 0, 5, 10], yltt=["-10", "-5", "0", "5", "10"],
         yrt=[20, 40, 60, 80, 100], yrtt=["20", "40", "60", "80", "100"],
         xlab="Residential group size", ylab="Social group size", yrlab="% foraging in large groups"),
    dict(title="Social classes", mam=sc_mammals, bird=sc_birds, mfit=sc_mammal_fit, bfit=sc_bird_fit,
         box=(662, 1088.5, 494.3, 744), xr=[-0.0225, 1.0243], ylr=[-0.84, 20.87], yrr=[-0.336, 8.35],
         xt=[0, 0.2, 0.4, 0.6, 0.8, 1], xtt=["0", ".2", ".4", ".6", ".8", "1"],
         ylt=[0, 5, 10, 15, 20], yltt=["0", "5", "10", "15", "20"],
         yrt=[0, 2, 4, 6, 8], yrtt=["0", "2", "4", "6", "8"],
         xlab="Existence of social classes (binary)", ylab="% cooperative breeder",
         yrlab="% cooperative non-kin breeder"),
]

fig = go.Figure()
layout = dict(
    width=W, height=H, margin=dict(l=0, r=0, t=0, b=0),
    paper_bgcolor="white", plot_bgcolor="white",
    font=dict(family=FONT, size=16, color="black"),
    showlegend=True, annotations=[],
)

tick_font = dict(family=FONT, size=16, color="black")


def px_x(p):
    return p / W


def px_y(p):
    return 1 - p / H


for i, p in enumerate(panels, start=1):
    xid = "x" if i == 1 else f"x{i}"
    yl = f"y{2 * i - 1}" if i > 1 else "y"
    yr = f"y{2 * i}"
    leg = "legend" if i == 1 else f"legend{i}"
    x0, x1, y0, y1 = p["box"]

    # fitted lines sit underneath the markers
    fx, fy = zip(*p["mfit"])
    fig.add_trace(go.Scatter(x=fx, y=fy, mode="lines", xaxis=xid, yaxis=yl, showlegend=False,
                             line=dict(color=BLUE, width=1.2), hoverinfo="skip"))
    mx, my = zip(*p["mam"])
    fig.add_trace(go.Scatter(x=mx, y=my, mode="markers", xaxis=xid, yaxis=yl, name="Mammals (left axis)",
                             legend=leg, marker=dict(symbol="circle", size=5.5, color=BLUE)))
    bfx, bfy = zip(*p["bfit"])
    fig.add_trace(go.Scatter(x=bfx, y=bfy, mode="lines", xaxis=xid, yaxis=yr, showlegend=False,
                             line=dict(color=ORANGE, width=1.2, dash="11px,6px"), hoverinfo="skip"))
    bx, by = zip(*p["bird"])
    fig.add_trace(go.Scatter(x=bx, y=by, mode="markers", xaxis=xid, yaxis=yr, name="Birds (right axis)",
                             legend=leg,
                             marker=dict(symbol="diamond-open", size=5.5, color=ORANGE,
                                         line=dict(color=ORANGE, width=1.1))))

    axis_common = dict(showgrid=False, zeroline=False, showline=True, linecolor=INK, linewidth=1.3,
                       ticks="outside", ticklen=5, tickwidth=1, tickcolor=INK, tickfont=tick_font)
    xkey = "xaxis" if i == 1 else f"xaxis{i}"
    ylkey = "yaxis" if i == 1 else f"yaxis{2 * i - 1}"
    yrkey = f"yaxis{2 * i}"
    layout[xkey] = dict(axis_common, domain=[px_x(x0), px_x(x1)], range=p["xr"], anchor=yl,
                        mirror=True, tickmode="array", tickvals=p["xt"], ticktext=p["xtt"])
    layout[ylkey] = dict(axis_common, domain=[px_y(y1), px_y(y0)], range=p["ylr"], anchor=xid,
                         side="left", tickangle=-90, tickmode="array", tickvals=p["ylt"], ticktext=p["yltt"])
    layout[yrkey] = dict(axis_common, range=p["yrr"], anchor=xid, overlaying=yl, side="right",
                         tickangle=-90, tickmode="array", tickvals=p["yrt"], ticktext=p["yrtt"])

    cx = (x0 + x1) / 2 + 1.5
    cy = (y0 + y1) / 2
    top = y0
    ann = layout["annotations"]
    # panel title
    ann.append(dict(text=p["title"], x=px_x(cx), y=px_y(top - 57.5), xref="paper", yref="paper",
                    showarrow=False, xanchor="center", yanchor="middle",
                    font=dict(family=FONT, size=22, color="black")))
    # x axis titles
    ann.append(dict(text="HUMANS", x=px_x(cx), y=px_y(y1 + 39.5), xref="paper", yref="paper",
                    showarrow=False, xanchor="center", yanchor="middle", font=dict(family=FONT, size=16)))
    ann.append(dict(text=p["xlab"], x=px_x(cx), y=px_y(y1 + 56), xref="paper", yref="paper",
                    showarrow=False, xanchor="center", yanchor="middle", font=dict(family=FONT, size=16)))
    # y axis titles (left: mammals, right: birds)
    for txt, xp in (("MAMMALS", x0 - 59.5), (p["ylab"], x0 - 43.5),
                    ("BIRDS", x1 + 36), (p["yrlab"], x1 + 52)):
        ann.append(dict(text=txt, x=px_x(xp), y=px_y(cy), xref="paper", yref="paper", textangle=-90,
                        showarrow=False, xanchor="center", yanchor="middle", font=dict(family=FONT, size=16)))

    # legend above the plot area
    layout[leg] = dict(orientation="h", x=px_x(x0 + 23), y=px_y(top - 20.7), xanchor="left", yanchor="middle",
                       font=dict(family=FONT, size=16, color="black"), bgcolor="rgba(0,0,0,0)",
                       borderwidth=0, entrywidth=154, entrywidthmode="pixels", itemclick=False)

fig.update_layout(**layout)
fig.write_html("out.html")
